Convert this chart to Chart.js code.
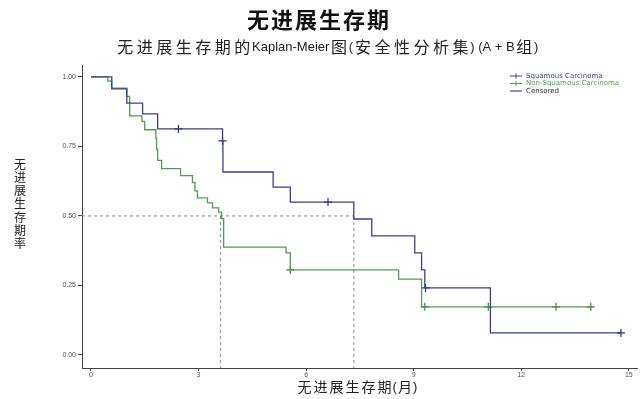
<!DOCTYPE html>
<html>
<head>
<meta charset="utf-8">
<script src="https://cdn.jsdelivr.net/npm/chart.js@4.4.1/dist/chart.umd.min.js"></script>
<style>
  html, body { margin: 0; padding: 0; background: #fff; }
  #wrap { width: 643px; height: 399px; }
</style>
</head>
<body>
<div id="wrap"><canvas id="km"></canvas></div>
<script>
// Kaplan-Meier, valores
const sqTempos   = [0, 0.58, 1.0, 1.44, 1.86, 3.67, 3.68, 5.08, 5.56, 7.33, 7.83, 9.03, 9.22, 9.31, 11.14, 14.78];
const sqSobrev   = [1, 0.957, 0.906, 0.867, 0.813, 0.77, 0.658, 0.604, 0.55, 0.489, 0.428, 0.367, 0.306, 0.241, 0.079, 0.079];
const sqCensT    = [2.44, 3.67, 6.61, 9.33, 14.78];
const sqCensS    = [0.813, 0.77, 0.55, 0.241, 0.079];

const nsqTempos  = [0, 0.47, 0.58, 1.0, 1.08, 1.42, 1.50, 1.81, 1.83, 1.86, 1.97, 2.5, 2.83, 2.90, 2.97, 3.25, 3.39, 3.56, 3.64, 3.70, 5.44, 5.56, 8.58, 9.22, 13.94];
const nsqSobrev  = [1, 0.985, 0.96, 0.93, 0.86, 0.84, 0.81, 0.78, 0.74, 0.70, 0.67, 0.645, 0.62, 0.59, 0.565, 0.547, 0.529, 0.514, 0.49, 0.388, 0.367, 0.306, 0.273, 0.173, 0.173];
const nsqCensT   = [5.56, 9.31, 11.08, 12.97, 13.94];
const nsqCensS   = [0.306, 0.173, 0.173, 0.173, 0.173];

const medianas   = [3.61, 7.33];
const xTicks     = [0, 3, 6, 9, 12, 15];
const yTicks     = [0, 0.25, 0.5, 0.75, 1];

const TITULO     = '无进展生存期';
const SUBTITULO  = '无进展生存期的Kaplan-Meier图(安全性分析集) (A + B组)';
const TITULO_X   = '无进展生存期(月)';
const TITULO_Y   = '无进展生存期率';

const COR_SQ = '#3d3f8e';
const COR_NSQ = '#4f9e4f';
const FONTE_CJK = '"Noto Sans CJK SC", "Noto Sans", sans-serif';
const FONTE_LAT = 'Arial, "Liberation Sans", sans-serif';

const pares = (xs, ys) => xs.map((x, i) => ({ x, y: ys[i] }));

const X_MIN = -0.25, X_MAX = 15.25;
const Y_MIN = -0.047, Y_MAX = 1.043;

// linhas da mediana (tracejadas)
const linhasMediana = [
  { label: 'med-h', data: [{ x: X_MIN, y: 0.5 }, { x: medianas[1], y: 0.5 }] },
  ...medianas.map((m, i) => ({ label: 'med-v' + i, data: [{ x: m, y: 0.5 }, { x: m, y: Y_MIN }] }))
].map(d => Object.assign(d, {
  type: 'line', borderColor: '#888', borderWidth: 1, borderDash: [3, 3],
  pointRadius: 0, fill: false
}));

const ehCJK = c => /[\u3400-\u9fff]/.test(c);

// texto misto: caracteres chineses com avanço fixo, latinos medidos
function textoEspacado(ctx, txt, cx, y, cfg) {
  const pedacos = [...txt].map(c => {
    const cjk = ehCJK(c);
    ctx.font = cjk ? cfg.cjk : cfg.lat;
    return { c, cjk, w: cjk ? cfg.passo : ctx.measureText(c).width };
  });
  const total = pedacos.reduce((s, p) => s + p.w, 0);
  let x = cx - total / 2;
  ctx.textAlign = 'center';
  ctx.textBaseline = 'middle';
  pedacos.forEach(p => {
    ctx.font = p.cjk ? cfg.cjk : cfg.lat;
    ctx.fillText(p.c, x + p.w / 2, y);
    x += p.w;
  });
}

const textos = {
  id: 'textos',
  afterDraw(chart) {
    const ctx = chart.ctx;
    const ca = chart.chartArea;
    ctx.save();
    ctx.fillStyle = '#111';
    textoEspacado(ctx, TITULO, 318, 20, { cjk: 'bold 22px ' + FONTE_CJK, lat: 'bold 16px ' + FONTE_LAT, passo: 24 });
    ctx.fillStyle = '#222';
    textoEspacado(ctx, SUBTITULO, 327, 47, { cjk: '16px ' + FONTE_CJK, lat: '13px ' + FONTE_LAT, passo: 19.5 });
    textoEspacado(ctx, TITULO_X, (ca.left + ca.right) / 2 - 3, 387, { cjk: '14px ' + FONTE_CJK, lat: '13px ' + FONTE_LAT, passo: 16 });
    ctx.font = '12px ' + FONTE_CJK;
    ctx.textAlign = 'center';
    ctx.textBaseline = 'middle';
    [...TITULO_Y].forEach((c, i) => ctx.fillText(c, 20, 164 + i * 13.3));
    ctx.restore();
  }
};

// legenda dentro da área do gráfico
const legendaInterna = {
  id: 'legendaInterna',
  afterDraw(chart) {
    const ctx = chart.ctx;
    const itens = [
      { txt: 'Squamous Carcinoma', cor: COR_SQ, cruz: true },
      { txt: 'Non-Squamous Carcinoma', cor: COR_NSQ, cruz: true },
      { txt: 'Censored', cor: '#333', cruz: false }
    ];
    ctx.save();
    ctx.font = '7px "DejaVu Sans", sans-serif';
    ctx.textBaseline = 'middle';
    itens.forEach((it, i) => {
      const y = 76 + i * 7.5;
      ctx.strokeStyle = it.cor;
      ctx.lineWidth = 1;
      ctx.beginPath();
      ctx.moveTo(510, y); ctx.lineTo(522, y);
      if (it.cruz) { ctx.moveTo(516, y - 2.5); ctx.lineTo(516, y + 2.5); }
      ctx.stroke();
      ctx.fillStyle = it.cor;
      ctx.fillText(it.txt, 526, y);
    });
    ctx.restore();
  }
};

new Chart(document.getElementById('km'), {
  type: 'line',
  data: {
    datasets: [
      {
        label: 'Squamous Carcinoma',
        data: pares(sqTempos, sqSobrev),
        borderColor: COR_SQ, borderWidth: 1.3, stepped: 'before',
        pointRadius: 0, fill: false
      },
      {
        label: 'Non-Squamous Carcinoma',
        data: pares(nsqTempos, nsqSobrev),
        borderColor: COR_NSQ, borderWidth: 1.3, stepped: 'before',
        pointRadius: 0, fill: false
      },
      {
        label: 'Censored SQ',
        data: pares(sqCensT, sqCensS),
        showLine: false, pointStyle: 'cross', pointRadius: 4,
        pointBorderColor: '#2a2c70', pointBorderWidth: 1.2
      },
      {
        label: 'Censored NSQ',
        data: pares(nsqCensT, nsqCensS),
        showLine: false, pointStyle: 'cross', pointRadius: 4,
        pointBorderColor: '#3c7f3c', pointBorderWidth: 1.2
      },
      ...linhasMediana
    ]
  },
  options: {
    responsive: true,
    maintainAspectRatio: false,
    animation: false,
    layout: { padding: { left: 0, right: 3, top: 65 } },
    plugins: {
      legend: { display: false },
      tooltip: { enabled: false },
      title: { display: false }
    },
    scales: {
      x: {
        type: 'linear',
        min: X_MIN, max: X_MAX,
        afterBuildTicks: s => { s.ticks = xTicks.map(v => ({ value: v })); },
        afterFit: s => { s.height = 31; },
        grid: { drawOnChartArea: false, tickLength: 3, color: '#444' },
        border: { display: true, color: '#444', width: 1 },
        ticks: { color: '#555', font: { size: 7 }, padding: 0, maxRotation: 0 }
      },
      y: {
        type: 'linear',
        min: Y_MIN, max: Y_MAX,
        afterBuildTicks: s => { s.ticks = yTicks.map(v => ({ value: v })); },
        afterFit: s => { s.width = 82; },
        grid: { drawOnChartArea: false, tickLength: 4, color: '#444' },
        border: { display: true, color: '#444', width: 1 },
        ticks: {
          color: '#555', font: { size: 7 }, padding: 2,
          callback: v => v.toFixed(2)
        }
      }
    }
  },
  plugins: [textos, legendaInterna]
});
</script>
</body>
</html>
